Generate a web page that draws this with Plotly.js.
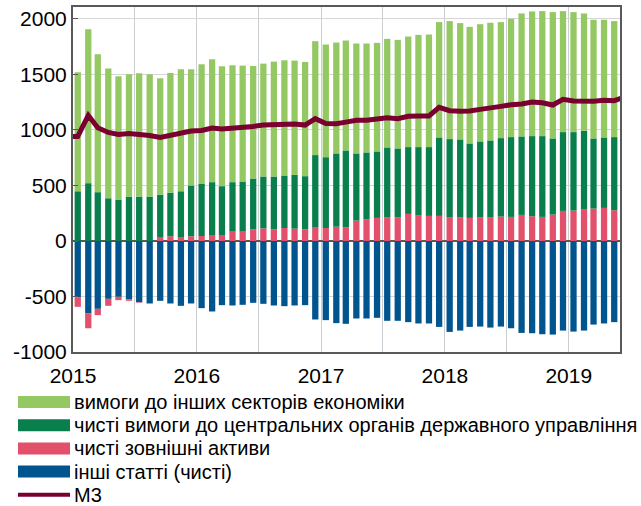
<!DOCTYPE html>
<html>
<head>
<meta charset="utf-8">
<script src="https://cdn.plot.ly/plotly-3.0.1.min.js"></script>
<style>
  html, body { margin: 0; padding: 0; background: #fff; }
  #chart { width: 641px; height: 506px; }
</style>
</head>
<body>
<div id="chart"></div>
<script>
// monthly points, Jan 2015 .. May 2019 (bars sit mid-month)
const months = [];
for (let y = 2015; y <= 2019; y++) {
    for (let m = 1; m <= 12; m++) {
        if (y === 2019 && m > 5) break;
        months.push(y + '-' + String(m).padStart(2, '0') + '-15');
    }
}

// top of the positive stack (sum of the three positive parts)
const totalTop = [
    1520, 1908, 1683, 1553, 1484, 1502, 1511, 1502, 1466, 1514, 1547, 1547,
    1592, 1637, 1574, 1583, 1580, 1577, 1598, 1616, 1628, 1625, 1613, 1800,
    1770, 1788, 1806, 1779, 1779, 1785, 1821, 1812, 1842, 1857, 1860, 1972,
    1981, 1963, 1929, 1953, 1966, 1972, 2002, 2050, 2068, 2071, 2062, 2071,
    2062, 2050, 1993, 1993, 1981
];
// top of the dark green part (net foreign assets + claims on government)
const govTop = [
    448, 521, 440, 385, 373, 400, 400, 400, 418, 436, 448, 500,
    518, 530, 494, 530, 536, 563, 581, 581, 590, 596, 584, 774,
    755, 789, 816, 789, 798, 807, 843, 834, 846, 846, 846, 933,
    918, 915, 879, 897, 906, 927, 936, 942, 945, 945, 924, 981,
    981, 993, 924, 933, 936
];
// net foreign assets
const netForeign = [
    -84, -133, -57, -63, -30, -15, -5, 0, 30, 42, 36, 42,
    45, 54, 54, 84, 84, 105, 114, 105, 117, 111, 105, 120,
    117, 129, 123, 184, 196, 208, 211, 214, 244, 229, 226, 226,
    211, 214, 208, 211, 211, 220, 217, 235, 223, 217, 238, 271,
    274, 283, 292, 298, 277
];
// other items (net)
const otherItems = [
    -509, -653, -611, -521, -503, -524, -551, -563, -539, -563, -584, -563,
    -605, -635, -578, -581, -575, -557, -566, -581, -587, -581, -578, -707,
    -713, -740, -746, -698, -698, -692, -719, -719, -731, -743, -743, -774,
    -819, -807, -774, -771, -780, -771, -786, -828, -831, -840, -843, -807,
    -816, -807, -753, -743, -731
];

// M3 line, Dec 2014 .. Jun 2019
const m3Dates = ['2014-12-15'].concat(months, ['2019-06-15']);
const m3 = [
    942,
    942, 1132, 1020, 978, 960, 969, 963, 951, 933, 954, 966, 990,
    995, 1017, 1008, 1014, 1020, 1032, 1044, 1047, 1050, 1053, 1044, 1102,
    1059, 1056, 1071, 1087, 1087, 1102, 1111, 1102, 1123, 1126, 1126, 1204,
    1174, 1168, 1171, 1186, 1204, 1213, 1228, 1234, 1252, 1246, 1225, 1276,
    1261, 1258, 1258, 1267, 1264,
    1297
];

const yTicks = [-1000, -500, 0, 500, 1000, 1500, 2000];
const yTickText = ['-1000', '-500', '0', '500', '1000', '1500', '2000'];

const names = [
    'вимоги до інших секторів економіки',
    'чисті вимоги до центральних органів державного управління',
    'чисті зовнішні активи',
    'інші статті (чисті)',
    'М3'
];
const colors = ['#93c862', '#087f4c', '#e2506b', '#00558f', '#7a0030'];

const posForeign = netForeign.map(v => Math.max(v, 0));
const claimsGov = govTop.map((v, i) => v - posForeign[i]);
const claimsOther = totalTop.map((v, i) => v - govTop[i]);

const barWidth = 18.5 * 24 * 3600 * 1000;

const traces = [
    { x: months, y: otherItems, type: 'bar', name: names[3], marker: { color: colors[3] }, width: barWidth },
    { x: months, y: netForeign, type: 'bar', name: names[2], marker: { color: colors[2] }, width: barWidth },
    { x: months, y: claimsGov, type: 'bar', name: names[1], marker: { color: colors[1] }, width: barWidth },
    { x: months, y: claimsOther, type: 'bar', name: names[0], marker: { color: colors[0] }, width: barWidth },
    {
        x: m3Dates, y: m3, type: 'scatter', mode: 'lines', name: names[4],
        line: { color: colors[4], width: 5 }
    }
];

// plot area in pixels, used for the hand-drawn legend below the chart
const plotL = 73, plotR = 620, plotT = 7, plotB = 352;
const px = v => (v - plotL) / (plotR - plotL);
const py = v => (plotB - v) / (plotB - plotT);

const shapes = [];
const annotations = [];
names.forEach((name, i) => {
    const cy = 402 + i * 23.2;
    if (i < 4) {
        shapes.push({
            type: 'rect', xref: 'paper', yref: 'paper',
            x0: px(18), x1: px(70), y0: py(cy - 6), y1: py(cy + 6),
            fillcolor: colors[i], line: { width: 0 }
        });
    } else {
        shapes.push({
            type: 'line', xref: 'paper', yref: 'paper',
            x0: px(18), x1: px(70), y0: py(cy), y1: py(cy),
            line: { color: colors[i], width: 4 }
        });
    }
    annotations.push({
        xref: 'paper', yref: 'paper', x: px(72), y: py(cy),
        xanchor: 'left', yanchor: 'middle', showarrow: false,
        text: name, font: { size: 20, color: '#000' }
    });
});

const layout = {
    width: 641,
    height: 506,
    barmode: 'relative',
    showlegend: false,
    paper_bgcolor: '#fff',
    plot_bgcolor: '#fff',
    font: { family: 'Liberation Sans, Arial, sans-serif', size: 21, color: '#000' },
    margin: { l: plotL, r: 641 - plotR, t: plotT, b: 506 - plotB, autoexpand: false },
    xaxis: {
        type: 'date',
        range: ['2015-01-01', '2019-06-01'],
        dtick: 'M12',
        tick0: '2015-01-01',
        tickformat: '%Y',
        ticks: '',
        ticklabelstandoff: 4,
        showgrid: true,
        gridcolor: '#c9ced3',
        gridwidth: 1,
        minor: { dtick: 'M6', showgrid: true, gridcolor: '#c9ced3', gridwidth: 1 },
        showline: true,
        linecolor: '#595959',
        linewidth: 2,
        mirror: true,
        zeroline: false,
        tickfont: { size: 21 }
    },
    // year ticks crossing the zero line
    xaxis2: {
        type: 'date',
        overlaying: 'x',
        matches: 'x',
        anchor: 'free',
        position: py(236),
        dtick: 'M12',
        tick0: '2015-01-01',
        ticks: 'outside',
        ticklen: 10,
        tickwidth: 2,
        tickcolor: '#595959',
        showticklabels: false,
        showgrid: false,
        showline: false,
        zeroline: false
    },
    yaxis: {
        range: [-1000, 2108],
        tickmode: 'array',
        tickvals: yTicks,
        ticktext: yTickText,
        ticks: 'inside',
        ticklen: 5,
        tickcolor: '#595959',
        showgrid: true,
        gridcolor: '#d6d6d6',
        gridwidth: 1,
        showline: true,
        linecolor: '#595959',
        linewidth: 2,
        mirror: true,
        zeroline: true,
        zerolinecolor: '#595959',
        zerolinewidth: 2,
        tickfont: { size: 21 }
    },
    shapes: shapes,
    annotations: annotations
};

Plotly.newPlot('chart', traces, layout, { displayModeBar: false, staticPlot: true });
</script>
</body>
</html>
